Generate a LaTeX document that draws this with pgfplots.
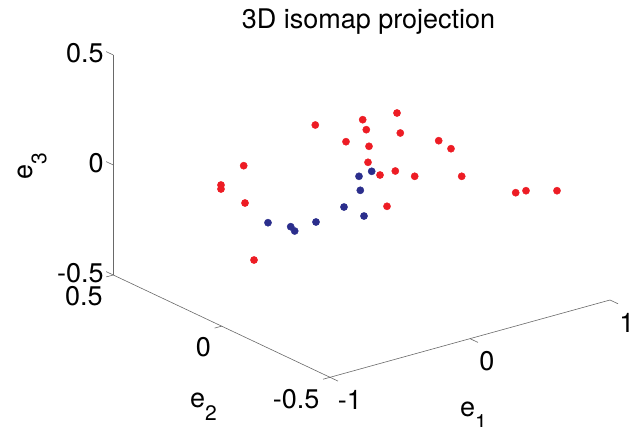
\documentclass[border=0pt]{standalone}
\usepackage{fontspec}
\setmainfont{TeX Gyre Heros}
\usepackage{pgfplots}
\pgfplotsset{compat=1.18}
\definecolor{mred}{RGB}{237,28,36}
\definecolor{mblue}{RGB}{43,46,140}
\definecolor{axgray}{RGB}{105,105,105}
\newcommand{\lbl}{\fontsize{27}{30}\selectfont}
\newcommand{\sub}[1]{\raisebox{-0.5em}{\fontsize{21}{24}\selectfont #1}}
\tikzset{
  axl/.style={draw=axgray, line width=0.6pt},
  tl/.style={font=\lbl, inner sep=0pt, text=black},
}
\begin{document}
\begin{tikzpicture}
\begin{axis}[
  x={(140pt,38.65pt)}, y={(-216.7pt,102.3pt)}, z={(0pt,220pt)},
  disabledatascaling,
  xmin=-1,xmax=1,ymin=-0.5,ymax=0.5,zmin=-0.5,zmax=0.5,
  hide axis, clip=false,
]
\addplot3[only marks, mark=*, mark size=3.6pt, mark options={draw=mred, fill=mred}] table {
x y z
-0.3311 0 0.2968
0.0075 0 0.2614
0.2525 0 0.2488
0.0332 0 0.2115
0.2761 0 0.1538
-0.1118 0 0.1824
0.0525 0 0.1326
0.2408 -0.2 0.2180
0.3286 -0.2 0.1662
-0.4555 0.25 0.0174
0.0454 0 0.0611
0.1311 0 -0.0117
0.2404 0 -0.0127
0.2241 -0.1 0.0126
0.4051 -0.2 0.0273
-0.5403 0.3 -0.0787
-0.5403 0.3 -0.0969
-0.4462 0.25 -0.1538
0.1811 0 -0.1627
-0.3819 0.25 -0.4242
0.4812 -0.4 0.0324
0.5548 -0.4 0.0285
0.7762 -0.4 -0.0104
};
\addplot3[only marks, mark=*, mark size=3.6pt, mark options={draw=mblue, fill=mblue}] table {
x y z
0.0718 0 0.0155
-0.0189 0 0.0088
-0.0096 0 -0.0565
-0.1261 0 -0.1120
0.0168 0 -0.1780
-0.1713 0.1 -0.2187
-0.3594 0.2 -0.2353
-0.2746 0.15 -0.2452
-0.2461 0.15 -0.2697
};
% axis lines
\draw[axl] (axis cs:-1,-0.5,-0.5) -- (axis cs:1,-0.5,-0.5);
\draw[axl] (axis cs:-1,-0.5,-0.5) -- (axis cs:-1,0.5,-0.5);
\draw[axl] (axis cs:-1,0.5,-0.5) -- (axis cs:-1,0.5,0.5);
% x ticks
\draw[axl] (axis cs:-1,-0.5,-0.5) -- (axis cs:-1,-0.537,-0.5);
\draw[axl] (axis cs:0,-0.5,-0.5) -- (axis cs:0,-0.537,-0.5);
\draw[axl] (axis cs:1,-0.5,-0.5) -- (axis cs:1,-0.537,-0.5);
% y ticks
\draw[axl] (axis cs:-1,-0.5,-0.5) -- (axis cs:-1.05,-0.5,-0.5);
\draw[axl] (axis cs:-1,0,-0.5) -- (axis cs:-1.05,0,-0.5);
\draw[axl] (axis cs:-1,0.5,-0.5) -- (axis cs:-1.05,0.5,-0.5);
% z ticks
\draw[axl] (axis cs:-1,0.5,-0.5) -- (axis cs:-1,0.533,-0.5);
\draw[axl] (axis cs:-1,0.5,0) -- (axis cs:-1,0.533,0);
\draw[axl] (axis cs:-1,0.5,0.5) -- (axis cs:-1,0.533,0.5);
% x tick labels
\node[tl, anchor=north] at ([xshift=20pt,yshift=-13pt]axis cs:-1,-0.5,-0.5) {-1};
\node[tl, anchor=north] at ([xshift=17pt,yshift=-13pt]axis cs:0,-0.5,-0.5) {0};
\node[tl, anchor=north] at ([xshift=17pt,yshift=-13pt]axis cs:1,-0.5,-0.5) {1};
% y tick labels
\node[tl, anchor=north east] at ([xshift=-10.5pt,yshift=-11.5pt]axis cs:-1,-0.5,-0.5) {-0.5};
\node[tl, anchor=north east] at ([xshift=-10.5pt,yshift=-11.5pt]axis cs:-1,0,-0.5) {0};
\node[tl, anchor=north east] at ([xshift=-10.5pt,yshift=-11.5pt]axis cs:-1,0.5,-0.5) {0.5};
% z tick labels
\node[tl, anchor=east] at ([xshift=-9.5pt,yshift=1.5pt]axis cs:-1,0.5,-0.5) {-0.5};
\node[tl, anchor=east] at ([xshift=-9.5pt,yshift=1.5pt]axis cs:-1,0.5,0) {0};
\node[tl, anchor=east] at ([xshift=-9.5pt,yshift=1.5pt]axis cs:-1,0.5,0.5) {0.5};
% title and axis labels
\node[tl, anchor=base] at ([xshift=6.85pt,yshift=148.5pt]axis cs:0,0,0) {3D isomap projection};
\node[tl, anchor=base west] at ([xshift=98.35pt,yshift=-238.5pt]axis cs:0,0,0) {e\sub{1}};
\node[tl, anchor=base west] at ([xshift=-171.65pt,yshift=-229.5pt]axis cs:0,0,0) {e\sub{2}};
\node[tl, anchor=base west, rotate=90] at ([xshift=-328.65pt,yshift=-2.5pt]axis cs:0,0,0) {e\sub{3}};
% canvas corners
\coordinate (cTL) at ([xshift=-361.65pt,yshift=177.5pt]axis cs:0,0,0);
\coordinate (cBR) at ([xshift=277.35pt,yshift=-249.5pt]axis cs:0,0,0);
\end{axis}
\pgfresetboundingbox
\path (cTL) rectangle (cBR);
\end{tikzpicture}
\end{document}
